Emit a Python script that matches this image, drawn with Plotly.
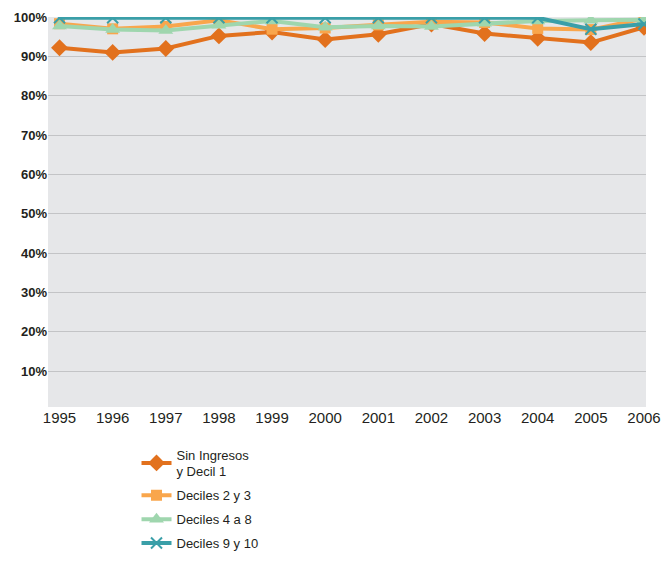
import plotly.graph_objects as go

years = [1995, 1996, 1997, 1998, 1999, 2000, 2001, 2002, 2003, 2004, 2005, 2006]
sin_ingresos_d1 = [92.2, 91.0, 92.0, 95.2, 96.2, 94.3, 95.6, 98.2, 95.8, 94.6, 93.5, 97.4]
deciles_2_3 = [98.3, 97.0, 97.6, 99.2, 96.9, 97.2, 98.0, 98.8, 98.6, 97.1, 96.8, 99.6]
deciles_4_8 = [97.7, 96.8, 96.6, 97.9, 99.0, 97.4, 97.7, 97.6, 98.4, 99.0, 99.2, 99.3]
deciles_9_10 = [99.8, 99.8, 99.8, 99.8, 99.8, 99.8, 99.8, 99.8, 99.8, 99.8, 96.9, 98.2]
y_ticks = [10, 20, 30, 40, 50, 60, 70, 80, 90, 100]
y_tick_labels = ["10%", "20%", "30%", "40%", "50%", "60%", "70%", "80%", "90%", "100%"]

series = [
    ("Sin Ingresos<br>y Decil 1", sin_ingresos_d1, "#E2711D", "diamond", 13),
    ("Deciles 2 y 3", deciles_2_3, "#F9A64C", "square", 11),
    ("Deciles 4 a 8", deciles_4_8, "#9FD6AE", "triangle-up", 13),
    ("Deciles 9 y 10", deciles_9_10, "#3A9FA8", "x-thin", 11),
]

fig = go.Figure()
for i, (name, vals, col, sym, size) in enumerate(series):
    marker = dict(symbol=sym, size=size, color=col)
    if sym == "x-thin":
        marker["line"] = dict(color=col, width=2)
    fig.add_trace(go.Scatter(
        x=years, y=vals, name=name, mode="lines+markers", legendgroup=f"g{i}",
        line=dict(color=col, width=4), marker=marker,
    ))

fig.update_layout(
    width=661, height=562,
    margin=dict(l=48, r=15, t=17, b=155),
    paper_bgcolor="white",
    plot_bgcolor="#E6E7E9",
    font=dict(family="Liberation Sans, Arial", color="#231F20"),
    xaxis=dict(
        range=[1994.783, 2006.038], tickmode="array", tickvals=years,
        ticktext=[str(y) for y in years], showgrid=False, zeroline=False,
        tickfont=dict(size=15, color="#231F20"), ticks="", ticklen=0,
        automargin=False,
    ),
    yaxis=dict(
        range=[0.9, 100], tickmode="array", tickvals=y_ticks, ticktext=y_tick_labels,
        showgrid=True, gridcolor="#C3C4C6", gridwidth=1, zeroline=False,
        tickfont=dict(size=13, color="#231F20", weight="bold"),
        automargin=False, ticklabelstandoff=0,
    ),
    legend=dict(
        xref="paper", yref="container",
        x=0.148, xanchor="left", y=0.218, yanchor="top",
        bgcolor="rgba(0,0,0,0)", font=dict(size=13, family="Liberation Sans, Arial", color="#231F20"),
        tracegroupgap=4, itemwidth=30,
    ),
    showlegend=True,
)

fig.write_html("out.html", config={"displayModeBar": False},
               post_script="document.body.style.margin='0px';")
